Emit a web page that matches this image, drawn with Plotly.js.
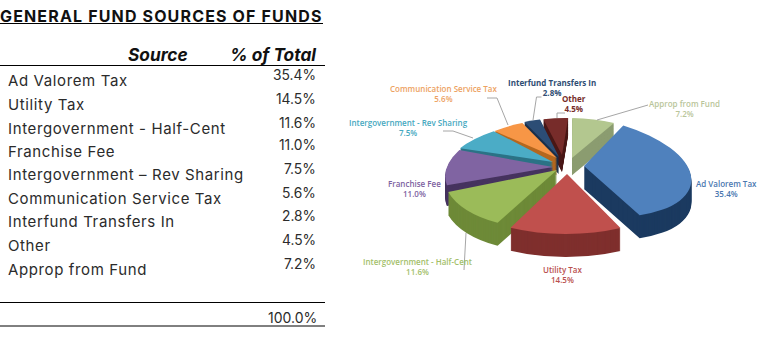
<!DOCTYPE html>
<html>
<head>
<meta charset="utf-8">
<script src="https://cdn.plot.ly/plotly-3.0.1.min.js"></script>
<style>
html,body{margin:0;padding:0;background:#fff}
#chart{width:776px;height:356px}
.gtitle{letter-spacing:1.15px}
.tbl text{letter-spacing:.62px}
</style>
</head>
<body>
<div id="chart"></div>
<script>
// ---- data ----
const chartTitle = "GENERAL FUND SOURCES OF FUNDS";
const tableSources = ["Ad Valorem Tax","Utility Tax","Intergovernment - Half-Cent","Franchise Fee","Intergovernment – Rev Sharing","Communication Service Tax","Interfund Transfers In","Other","Approp from Fund"];
const pieLabels = ["Ad Valorem Tax","Utility Tax","Intergovernment - Half-Cent","Franchise Fee","Intergovernment - Rev Sharing","Communication Service Tax","Interfund Transfers In","Other","Approp from Fund"];
const shares = [35.4,14.5,11.6,11.0,7.5,5.6,2.8,4.5,7.2];
const totalLabel = "100.0%";

// ---- styles ----
const W = 776, H = 356;
const topColors  = ["#4f81bd","#c0504d","#9bbb59","#8064a2","#4bacc6","#f79646","#2c4d75","#772c2a","#b3c78f"];
const wallColors = ["#1b3a60","#7f2f2d","#6e8a38","#46335f","#2c7386","#b5681f","#1a2f4a","#4a1817","#8b9c70"];
const textColors = ["#4a78b0","#b9504e","#a3c06a","#7d629f","#46a8c0","#eda262","#2f4d73","#772c2a","#b9c59a"];
const labelWeights = [600,600,600,600,600,600,700,700,600];
const labelPos = [[726,188.5],[562,274.5],[417,266],[414,188.5],[408,127.5],[443,93.5],[552,88],[574,103.5],[684,108.5]];
const leaderLines = [
  [[648,105],[597,120]],
  [[565,113],[557,113],[557,118]],
  [[541.5,97],[536.5,97],[533,120]],
  [[487,98],[497,98],[508,125]],
  [[443,131],[453,131],[473,138]],
  [[464,270],[466,233]]
];
const rowLabelY = [81,104,128,151,174,198,221,245,269];
const rowValueY = [75,99,123,145,169,193,216,240,264];
const cx = 565, cy = 168, R = 100, squash = 0.5, depth = 23;
// 3D view of each exploded slice: apex offset, projected x/y axes of the slice, wall depth factor
const sliceView = [
  {dx:19, dy:-2,  A:107, B:8.5, C:10,  D:50, wall:1},
  {dx:2,  dy:6,   A:125, B:-3,  C:1,   D:60, wall:1},
  {dx:-8, dy:2,   A:113, B:-12, C:1,   D:59, wall:1},
  {dx:-12,dy:-1,  A:105, B:-24, C:2,   D:52, wall:.9},
  {dx:-12,dy:-6,  A:104, B:-23, C:1.5, D:43, wall:.75},
  {dx:-8, dy:-10, A:93,  B:-7,  C:0,   D:39, wall:.75},
  {dx:-6, dy:-11, A:93,  B:-7,  C:0,   D:39, wall:.75},
  {dx:-3, dy:-13, A:88,  B:-6,  C:1,   D:37, wall:.75},
  {dx:7,  dy:-10, A:96,  B:0,   C:2,   D:40, wall:.75}
];
const tableFont = "Inter, 'Open Sans', sans-serif";
const pieFont = "'Open Sans', 'Noto Sans', sans-serif";

const xp = x => x / W;
const yp = y => 1 - y / H;

const traces = [];
const layers = [];
for (let i = depth; i >= 0; i--) {
  layers.push(i);
  traces.push({
    type: "pie",
    labels: pieLabels,
    values: shares,
    sort: false,
    direction: "clockwise",
    rotation: 26,
    textinfo: "none",
    hoverinfo: "skip",
    showlegend: false,
    marker: {colors: i === 0 ? topColors : wallColors, line: {width: 0}},
    domain: {x: [xp(cx - R), xp(cx + R)], y: [yp(cy + R), yp(cy - R)]}
  });
}

const ann = [];
const addText = (text, x, y, anchor, size, color, family, weight) => ann.push({
  text, x: xp(x), y: yp(y), xref: "paper", yref: "paper", xanchor: anchor, yanchor: "middle",
  showarrow: false, align: anchor === "center" ? "center" : anchor,
  font: {family, size, color, weight: weight || 400}, borderpad: 0
});

addText("<b><i>Source</i></b>", 189, 55, "right", 17.3, "#111", tableFont);
addText("<b><i>% of Total</i></b>", 317, 55, "right", 17.3, "#111", tableFont);
const firstLabelAnn = ann.length;
tableSources.forEach((s, i) => addText(s, 7, rowLabelY[i], "left", 15, "#2b2b2b", tableFont));
const lastLabelAnn = ann.length;
shares.forEach((v, i) => addText(v.toFixed(1) + "%", 317, rowValueY[i], "right", 13.8, "#2b2b2b", tableFont));
addText(totalLabel, 317.5, 317, "right", 14, "#2b2b2b", tableFont);
pieLabels.forEach((s, i) => addText(
  s + "<br>" + shares[i].toFixed(1) + "%", labelPos[i][0], labelPos[i][1], "center", 8, textColors[i], pieFont, labelWeights[i]));

const shapes = [];
[[0,325,65.5],[0,325,302.5],[0,325,326],[0,323,23.5]].forEach(r => shapes.push({
  type: "line", xref: "paper", yref: "paper", x0: xp(r[0]), x1: xp(r[1]), y0: yp(r[2]), y1: yp(r[2]),
  line: {color: "#000", width: 1}
}));
leaderLines.forEach(pts => {
  for (let i = 0; i < pts.length - 1; i++) shapes.push({
    type: "line", xref: "paper", yref: "paper",
    x0: xp(pts[i][0]), y0: yp(pts[i][1]), x1: xp(pts[i+1][0]), y1: yp(pts[i+1][1]),
    line: {color: "#a6a6a6", width: 1}
  });
});

const layout = {
  width: W, height: H,
  margin: {l: 0, r: 0, t: 0, b: 0},
  paper_bgcolor: "#fff",
  title: {
    text: "<b>" + chartTitle + "</b>",
    x: 0, xanchor: "left", xref: "paper",
    y: yp(16), yanchor: "middle", yref: "paper",
    font: {family: tableFont, size: 16, color: "#111"}
  },
  annotations: ann,
  shapes: shapes
};

Plotly.newPlot("chart", traces, layout, {staticPlot: true, displayModeBar: false}).then(gd => {
  // Plotly pies are flat circles: project every layer's slices into the tilted, exploded view
  gd.querySelectorAll(".pielayer .trace").forEach((g, t) => {
    g.setAttribute("transform", `translate(0,${cy * (1 - squash)}) scale(1,${squash})`);
    g.querySelectorAll(".slice path.surface").forEach((p, s) => {
      const v = sliceView[s];
      const drop = layers[t] * v.wall;
      p.setAttribute("transform",
        `translate(${cx + v.dx},${cy + (v.dy + drop) / squash}) ` +
        `matrix(${v.A / R},${v.C / R / squash},${v.B / R},${v.D / R / squash},0,0) ` +
        `translate(${-cx},${-cy})`);
    });
  });
  gd.querySelectorAll(".annotation").forEach((a, i) => {
    if (i >= firstLabelAnn && i < lastLabelAnn) a.classList.add("tbl");
  });
});
</script>
</body>
</html>
